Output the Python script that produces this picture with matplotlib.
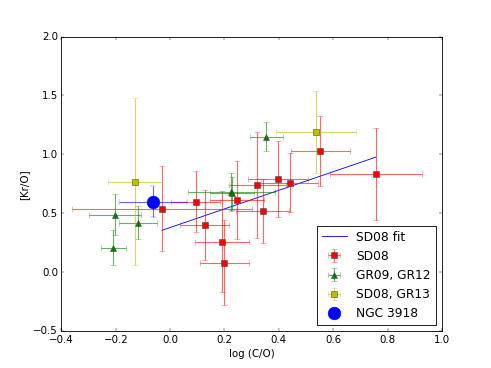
import matplotlib
matplotlib.use("Agg")
import matplotlib.pyplot as plt

# === ДАННЫЕ ===

# SD08 (красные квадраты)
sd08_x = [-0.03, 0.095, 0.127, 0.192, 0.199, 0.247, 0.321, 0.341, 0.396, 0.44, 0.553, 0.757]
sd08_y = [0.54, 0.60, 0.40, 0.26, 0.08, 0.61, 0.74, 0.52, 0.79, 0.76, 1.03, 0.83]
sd08_xerr = [0.33, 0.09, 0.09, 0.10, 0.09, 0.10, 0.105, 0.097, 0.11, 0.105, 0.108, 0.17]
sd08_yerr = [0.36, 0.26, 0.30, 0.43, 0.36, 0.33, 0.45, 0.27, 0.32, 0.25, 0.30, 0.39]

# линейная аппроксимация SD08 (концы отрезка)
fit_x = [-0.03, 0.757]
fit_y = [0.356, 0.977]

# GR09, GR12 (зелёные треугольники)
gr_x = [-0.203, -0.118, -0.21, 0.225, 0.228, 0.354]
gr_y = [0.49, 0.42, 0.21, 0.68, 0.67, 1.15]
gr_xerr = [0.096, 0.071, 0.046, 0.16, 0.08, 0.06]
gr_yerr = [0.17, 0.14, 0.15, 0.16, 0.14, 0.125]

# SD08, GR13 (жёлтые квадраты)
gr13_x = [-0.128, 0.538]
gr13_y = [0.77, 1.19]
gr13_xerr = [0.10, 0.147]
gr13_yerr = [0.71, 0.35]

# NGC 3918
ngc_x = [-0.063]
ngc_y = [0.60]
ngc_xerr = [0.124]
ngc_yerr = [0.13]

# === ГРАФИК ===

plt.style.use('classic')
fig = plt.figure(figsize=(8, 6), dpi=61.375, facecolor='white')
ax = fig.add_subplot(111)

EW = 1.3  # толщина линий погрешностей
EA = 0.6  # прозрачность погрешностей

h_fit, = ax.plot(fit_x, fit_y, 'b-', lw=1, label='SD08 fit')
h_sd08 = ax.errorbar(sd08_x, sd08_y, xerr=sd08_xerr, yerr=sd08_yerr, fmt='s', color='r',
                     ecolor=(1, 0, 0, EA), elinewidth=EW, ms=8, mec=(0.25, 0.25, 0.25), mew=0.6,
                     capsize=3, label='SD08')
h_gr = ax.errorbar(gr_x, gr_y, xerr=gr_xerr, yerr=gr_yerr, fmt='^', color='g',
                   ecolor=(0, 0.5, 0, EA), elinewidth=EW, ms=8, mec=(0.25, 0.25, 0.25), mew=0.6,
                   capsize=3, label='GR09, GR12')
h_gr13 = ax.errorbar(gr13_x, gr13_y, xerr=gr13_xerr, yerr=gr13_yerr, fmt='s', color='y',
                     ecolor=(0.75, 0.75, 0, EA), elinewidth=EW, ms=8, mec=(0.25, 0.25, 0.25), mew=0.6,
                     capsize=3, label='SD08, GR13')
ax.errorbar(ngc_x, ngc_y, xerr=ngc_xerr, yerr=ngc_yerr, fmt='none',
            ecolor=(0, 0, 1, EA), elinewidth=EW, capsize=3)
h_ngc, = ax.plot(ngc_x, ngc_y, 'o', color='b', ms=15, mec='b', label='NGC 3918')

ax.set_xlim(-0.4, 1.0)
ax.set_ylim(-0.5, 2.0)
ax.set_xlabel('log (C/O)')
ax.set_ylabel('[Kr/O]')
handles = [h_fit, h_sd08, h_gr, h_gr13, h_ngc]
ax.legend(handles, [h.get_label() for h in handles], loc='lower right',
          numpoints=1, fontsize='large')

fig.savefig('out.png', dpi=61.375, facecolor='white')
